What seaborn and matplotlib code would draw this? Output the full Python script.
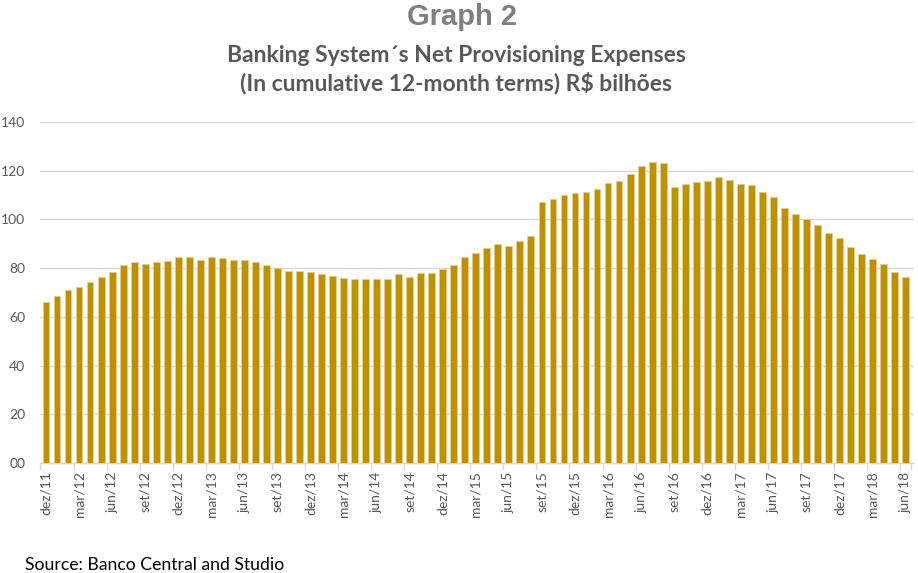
import matplotlib
matplotlib.use("Agg")
import matplotlib.pyplot as plt
import seaborn as sns
import pandas as pd
import numpy as np

# ---- data ----
month_names = ["jan", "fev", "mar", "abr", "mai", "jun", "jul", "ago", "set", "out", "nov", "dez"]
periods = ["dez/11"] + [f"{m}/{y:02d}" for y in range(12, 19) for m in month_names]
periods = periods[:79]  # dez/11 .. jun/18

values = [
    66.1, 68.7, 71.2, 72.3, 74.4, 76.5, 78.6, 81.2, 82.5, 81.9,
    82.6, 82.9, 84.4, 84.4, 83.5, 84.4, 84.0, 83.5, 83.3, 82.6,
    81.2, 80.0, 78.8, 78.8, 78.3, 77.5, 76.8, 76.1, 75.5, 75.5,
    75.5, 75.7, 77.5, 76.5, 77.9, 77.9, 79.7, 81.5, 84.4, 86.4,
    88.2, 90.0, 88.9, 91.0, 93.2, 107.3, 108.4, 110.2, 110.9, 111.3,
    112.7, 114.9, 115.7, 118.8, 121.9, 123.4, 123.1, 113.5, 114.5, 115.3,
    115.6, 117.4, 116.3, 114.5, 114.1, 111.3, 109.1, 104.6, 102.4, 100.3,
    97.7, 94.6, 92.2, 88.7, 85.8, 83.8, 81.8, 78.6, 76.5,
]

title = "Graph 2"
subtitle = "Banking System\u00b4s Net Provisioning Expenses\n(In cumulative 12-month terms) R$ bilhões"
source = "Source: Banco Central and Studio"
y_ticks = [0, 20, 40, 60, 80, 100, 120, 140]
y_tick_labels = ["00", "20", "40", "60", "80", "100", "120", "140"]

df = pd.DataFrame({"period": periods, "value": values})

# ---- plot ----
sns.set_theme(style="white")
plt.rcParams["font.family"] = ["Lato", "DejaVu Sans"]

fig = plt.figure(figsize=(9.18, 5.73), dpi=100)
ax = fig.add_axes([0.0441, 0.192, 0.952, 0.595])

sns.barplot(data=df, x="period", y="value", color="#BF9000", width=0.62,
            saturation=1, edgecolor="#E6CF8A", linewidth=0.6, ax=ax, zorder=3)

ax.set_ylim(0, 140)
ax.set_xlim(-0.5, 78.8)
ax.set_yticks(y_ticks)
ax.set_yticklabels(y_tick_labels, color="#595959", fontsize=10)
ax.yaxis.grid(True, color="#D9D9D9", linewidth=1.0, zorder=0)
ax.set_axisbelow(True)

tick_pos = list(range(0, 79, 3))
ax.set_xticks(tick_pos)
ax.set_xticklabels([periods[i] for i in tick_pos], rotation=90, color="#595959", fontsize=10)
ax.set_xticks([p - 0.5 for p in tick_pos] + [78.5], minor=True)
ax.tick_params(axis="x", which="major", length=0, pad=6)
ax.tick_params(axis="x", which="minor", length=5, color="#D9D9D9", width=1, bottom=True)
ax.tick_params(axis="y", length=0, pad=11)

ax.set_xlabel("")
ax.set_ylabel("")
for s in ["top", "right", "left"]:
    ax.spines[s].set_visible(False)
ax.spines["bottom"].set_color("#D9D9D9")
ax.spines["bottom"].set_linewidth(1.0)

fig.text(0.503, 0.971, title, ha="center", va="center", fontsize=21, fontweight="bold",
         color="#7F7F7F", family=["Liberation Sans", "DejaVu Sans"])
fig.text(0.497, 0.879, subtitle, ha="center", va="center", fontsize=16.5, fontweight="bold",
         color="#595959", linespacing=1.3)
fig.text(0.027, 0.006, source, ha="left", va="baseline", fontsize=12.7, color="#000000")

fig.savefig("out.png", dpi=100, facecolor="white")
